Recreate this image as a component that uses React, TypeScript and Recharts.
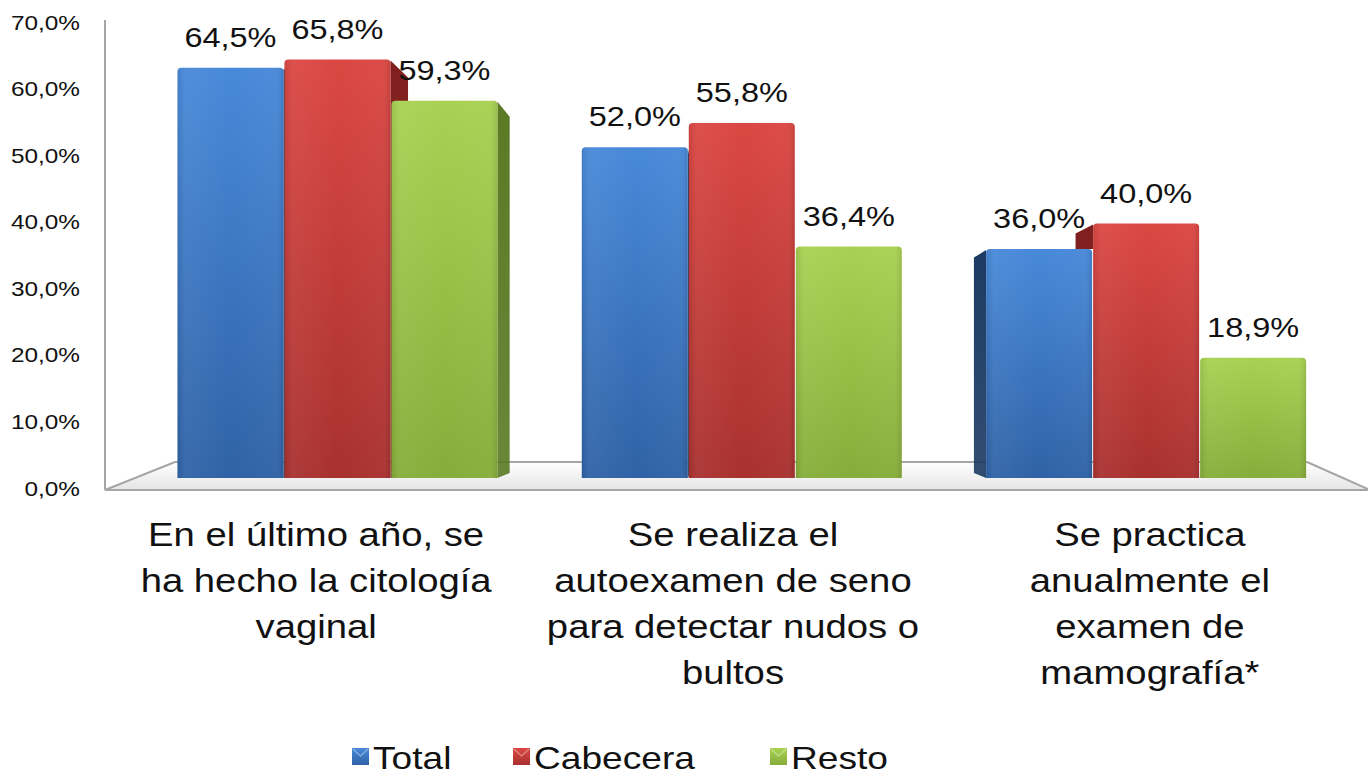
import React from "react";
import { Bar, ComposedChart, LabelList, Legend, Line, XAxis, YAxis } from "recharts";

// categories, split in lines as in the original chart
const categoryLines = [
  ["En el último año, se", "ha hecho la citología", "vaginal"],
  ["Se realiza el", "autoexamen de seno", "para detectar nudos o", "bultos"],
  ["Se practica", "anualmente el", "examen de", "mamografía*"],
];
const total = [64.5, 52.0, 36.0];
const cabecera = [65.8, 55.8, 40.0];
const resto = [59.3, 36.4, 18.9];
const yTicks = [0, 10, 20, 30, 40, 50, 60, 70];

const FONT = "'Liberation Sans', Arial, sans-serif";
const W = 1368;
const H = 777;
const STRETCH = 1.16; // the original text looks a bit wide

const series = [
  { key: "total", name: "Total", top: "#4889d9", bottom: "#2f62a6", side: "#1c3a63" },
  { key: "cabecera", name: "Cabecera", top: "#db4743", bottom: "#a8312f", side: "#7f1f1d" },
  { key: "resto", name: "Resto", top: "#a8d153", bottom: "#86ad3a", side: "#5a7a24" },
];

const data = categoryLines.map((lines, i) => ({
  name: lines.join(" "),
  total: total[i],
  cabecera: cabecera[i],
  resto: resto[i],
}));

const fmt = (v: number) => v.toFixed(1).replace(".", ",") + "%";

// fake perspective for the 3D look
const VP_X = 742;
const VP_Y = 380;
const DEPTH = 0.95;

const makeBarShape = (si: number) => (props: any) => {
  const { x, y, width, height, index, payload } = props;
  if (!height || height <= 0) return null;
  const s = series[si];
  const bottom = y + height;
  const r = 4;
  const front = `M${x},${bottom} L${x},${y + r} Q${x},${y} ${x + r},${y} L${x + width - r},${y} Q${x + width},${y} ${x + width},${y + r} L${x + width},${bottom} Z`;

  let side: React.ReactNode = null;
  let ex: number | null = null;
  let leftFace = false;
  if (x + width < VP_X) ex = x + width;
  else if (x > VP_X) {
    ex = x;
    leftFace = true;
  }
  if (ex !== null) {
    const bx = VP_X + (ex - VP_X) * DEPTH;
    const bTop = VP_Y + (y - VP_Y) * DEPTH;
    const bBot = VP_Y + (bottom - VP_Y) * DEPTH;
    const pts = `${ex},${y + 1} ${bx},${bTop + 2} ${bx},${bBot} ${ex},${bottom}`;
    const clipId = `side-${si}-${index}`;
    let clipY: number | null = null;
    if (leftFace && si > 0) {
      const v = payload[s.key];
      const nv = payload[series[si - 1].key];
      clipY = bottom - (nv * height) / v;
    }
    side = (
      <g>
        {clipY !== null && (
          <defs>
            <clipPath id={clipId}>
              <rect x={Math.min(ex, bx) - 2} y={0} width={Math.abs(ex - bx) + 4} height={clipY} />
            </clipPath>
          </defs>
        )}
        <polygon
          points={pts}
          fill={`url(#side-${s.key})`}
          clipPath={clipY !== null ? `url(#${clipId})` : undefined}
        />
      </g>
    );
  }

  return (
    <g>
      {side}
      <path d={front} fill={`url(#front-${s.key})`} />
      <path d={front} fill={`url(#shine)`} />
    </g>
  );
};

const WideText = ({ x, y, size, children, anchor = "middle" }: any) => (
  <g transform={`translate(${x},${y}) scale(${STRETCH},1)`}>
    <text x={0} y={0} textAnchor={anchor} fontSize={size} fontFamily={FONT} fill="#111">
      {children}
    </text>
  </g>
);

const YTick = ({ y, payload }: any) => (
  <WideText x={80} y={y + 7.5} size={21} anchor="end">
    {fmt(payload.value)}
  </WideText>
);

const XTick = ({ x, index }: any) => {
  const lines = categoryLines[index] || [];
  const cx = x - 8.5 + (x - VP_X) * 0.031;
  return (
    <g>
      {lines.map((l, i) => (
        <WideText key={i} x={cx} y={546 + i * 46} size={33}>
          {l}
        </WideText>
      ))}
    </g>
  );
};

const BarLabel = (props: any) => {
  const { x, y, width, value } = props;
  return (
    <WideText x={x + width / 2} y={y - 21} size={28}>
      {fmt(Number(value))}
    </WideText>
  );
};

const legendWidths = [161, 257, 150];

const renderLegend = () => (
  <div style={{ display: "flex", alignItems: "center", marginLeft: 352, height: 59 }}>
    {series.map((s, i) => (
      <div key={s.key} style={{ width: legendWidths[i], height: 59, position: "relative" }}>
        <svg width={legendWidths[i]} height={59} style={{ position: "absolute", left: 0, top: 0 }}>
          <defs>
            <linearGradient id={`leg-${s.key}`} x1="0" y1="0" x2="0" y2="1">
              <stop offset="0%" stopColor={s.top} />
              <stop offset="100%" stopColor={s.bottom} />
            </linearGradient>
          </defs>
          <rect x={0} y={30} width={17} height={17} fill={`url(#leg-${s.key})`} />
          <path d="M1,31 L8.5,38 L16,31" fill="none" stroke="#ffffff" strokeOpacity={0.35} strokeWidth={1.5} />
          <WideText x={21} y={51} size={32} anchor="start">
            {s.name}
          </WideText>
        </svg>
      </div>
    ))}
  </div>
);

const Floor = () => (
  <svg width={W} height={H} style={{ position: "absolute", left: 0, top: 0 }}>
    <defs>
      <linearGradient id="floorShade" x1="0" y1="0" x2="0" y2="1">
        <stop offset="0%" stopColor="#ffffff" />
        <stop offset="100%" stopColor="#e6e6e6" />
      </linearGradient>
    </defs>
    <polygon points="175,462 1307,462 1368,489 105,489" fill="url(#floorShade)" />
    <g stroke="#a6a6a6" strokeWidth={2} fill="none">
      <line x1={105} y1={20} x2={105} y2={490} />
      <line x1={105} y1={490} x2={1368} y2={490} />
      <line x1={175} y1={462} x2={1307} y2={462} />
      <line x1={105} y1={490} x2={175} y2={462} />
      <line x1={1307} y1={462} x2={1368} y2={489} />
    </g>
  </svg>
);

export default function App() {
  return (
    <div style={{ position: "absolute", left: 0, top: 0, width: W, height: H, background: "#fff" }}>
      <Floor />
      <div style={{ position: "absolute", left: 0, top: 0 }}>
        <ComposedChart
          width={W}
          height={H}
          data={data}
          margin={{ top: 22, right: 20, left: 0, bottom: 0 }}
          barCategoryGap="10.5%"
          barGap={1}
        >
          <defs>
            {series.map((s) => (
              <linearGradient key={s.key} id={`front-${s.key}`} x1="0" y1="0" x2="0" y2="1">
                <stop offset="0%" stopColor={s.top} />
                <stop offset="100%" stopColor={s.bottom} />
              </linearGradient>
            ))}
            {series.map((s) => (
              <linearGradient key={s.key} id={`side-${s.key}`} x1="0" y1="0" x2="0" y2="1">
                <stop offset="0%" stopColor={s.side} />
                <stop offset="100%" stopColor={s.side} stopOpacity={0.9} />
              </linearGradient>
            ))}
            <linearGradient id="shine" x1="0" y1="0" x2="1" y2="0">
              <stop offset="0%" stopColor="#000" stopOpacity={0.08} />
              <stop offset="8%" stopColor="#fff" stopOpacity={0.05} />
              <stop offset="50%" stopColor="#fff" stopOpacity={0} />
              <stop offset="92%" stopColor="#fff" stopOpacity={0.03} />
              <stop offset="100%" stopColor="#000" stopOpacity={0.1} />
            </linearGradient>
          </defs>
          <XAxis dataKey="name" height={230} axisLine={false} tickLine={false} tick={<XTick />} interval={0} />
          <YAxis
            yAxisId="axis"
            width={135}
            domain={[0, 70]}
            ticks={yTicks}
            axisLine={false}
            tickLine={false}
            tick={<YTick />}
          />
          <YAxis yAxisId="bars" hide domain={[-1.57, 71.7]} allowDataOverflow />
          <Legend verticalAlign="bottom" content={renderLegend} wrapperStyle={{ left: 0, width: W, height: 59 }} />
          {series.map((s, si) => (
            <Bar
              key={s.key}
              yAxisId="bars"
              dataKey={s.key}
              name={s.name}
              fill={s.top}
              shape={makeBarShape(si)}
              isAnimationActive={false}
            >
              <LabelList dataKey={s.key} content={<BarLabel />} />
            </Bar>
          ))}
          {/* invisible series so the visible percentage axis gets its ticks */}
          <Line
            yAxisId="axis"
            dataKey="total"
            stroke="none"
            dot={false}
            activeDot={false}
            legendType="none"
            isAnimationActive={false}
          />
        </ComposedChart>
      </div>
    </div>
  );
}
